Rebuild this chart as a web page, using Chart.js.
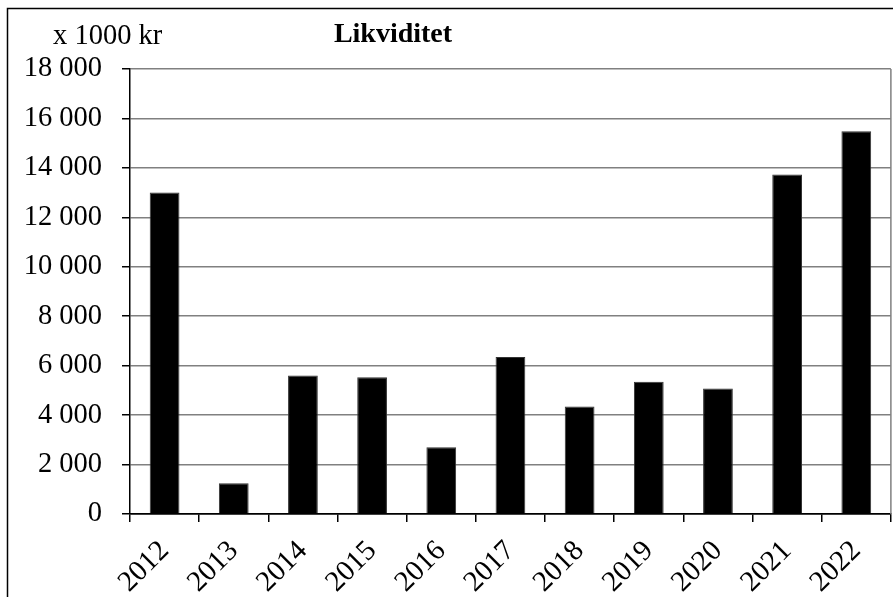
<!DOCTYPE html>
<html>
<head>
<meta charset="utf-8">
<title>Likviditet</title>
<script src="https://cdn.jsdelivr.net/npm/chart.js@4"></script>
<style>
  html, body { margin: 0; padding: 0; background: #fff; }
  canvas { display: block; }
</style>
</head>
<body>
<canvas id="chart" width="893" height="597"></canvas>
<script>
const years = ["2012", "2013", "2014", "2015", "2016", "2017", "2018", "2019", "2020", "2021", "2022"];
const liquidity = [13000, 1240, 5600, 5530, 2700, 6350, 4350, 5350, 5080, 13730, 15480];
const yMax = 18000;
const yStep = 2000;
const chartTitle = "Likviditet";
const unitLabel = "x 1000 kr";

const serif = "'Liberation Serif', 'Times New Roman', serif";

function spaced(v) {
    return String(v).replace(/\B(?=(\d{3})+(?!\d))/g, " ");
}

// border, right edge of plot and the two header texts
const decor = {
    id: "decor",
    afterDraw(chart) {
        const ctx = chart.ctx;
        const area = chart.chartArea;
        ctx.save();
        ctx.strokeStyle = "#000";
        ctx.lineWidth = 1.5;
        ctx.strokeRect(7.5, 8.5, 900, 600);

        ctx.strokeStyle = "#808080";
        ctx.lineWidth = 1.5;
        ctx.beginPath();
        ctx.moveTo(area.right, area.top);
        ctx.lineTo(area.right, area.bottom);
        ctx.stroke();

        ctx.fillStyle = "#000";
        ctx.textBaseline = "alphabetic";
        ctx.font = "bold 28px " + serif;
        ctx.textAlign = "center";
        ctx.fillText(chartTitle, 393, 42);
        ctx.font = "28.5px " + serif;
        ctx.textAlign = "left";
        ctx.fillText(unitLabel, 53, 44);
        ctx.restore();
    }
};

new Chart(document.getElementById("chart"), {
    type: "bar",
    data: {
        labels: years,
        datasets: [{
            data: liquidity,
            backgroundColor: "#000",
            borderColor: "#333",
            borderWidth: 1,
            barPercentage: 0.43,
            categoryPercentage: 1
        }]
    },
    options: {
        responsive: false,
        animation: false,
        layout: { padding: { top: 69, right: 2, left: 0, bottom: 0 } },
        plugins: {
            legend: { display: false },
            tooltip: { enabled: false }
        },
        scales: {
            x: {
                offset: true,
                grid: {
                    offset: true,
                    drawOnChartArea: false,
                    drawTicks: true,
                    tickLength: 8,
                    color: "#000",
                    lineWidth: 1.5
                },
                border: { color: "#000", width: 1.5 },
                ticks: {
                    color: "#000",
                    font: { family: serif, size: 29 },
                    minRotation: 45,
                    maxRotation: 45,
                    padding: 12
                },
                afterFit(scale) { scale.height = 83; }
            },
            y: {
                min: 0,
                max: yMax,
                grid: {
                    color: ctx => ctx.tick && ctx.tick.value === 0 ? "#000" : "#808080",
                    lineWidth: 1.5,
                    tickLength: 8,
                    tickColor: "#000"
                },
                border: { color: "#000", width: 1.5 },
                ticks: {
                    stepSize: yStep,
                    color: "#000",
                    padding: 20,
                    font: { family: serif, size: 28.5 },
                    callback: v => spaced(v)
                },
                afterFit(scale) { scale.width = 130; }
            }
        }
    },
    plugins: [decor]
});
</script>
</body>
</html>
